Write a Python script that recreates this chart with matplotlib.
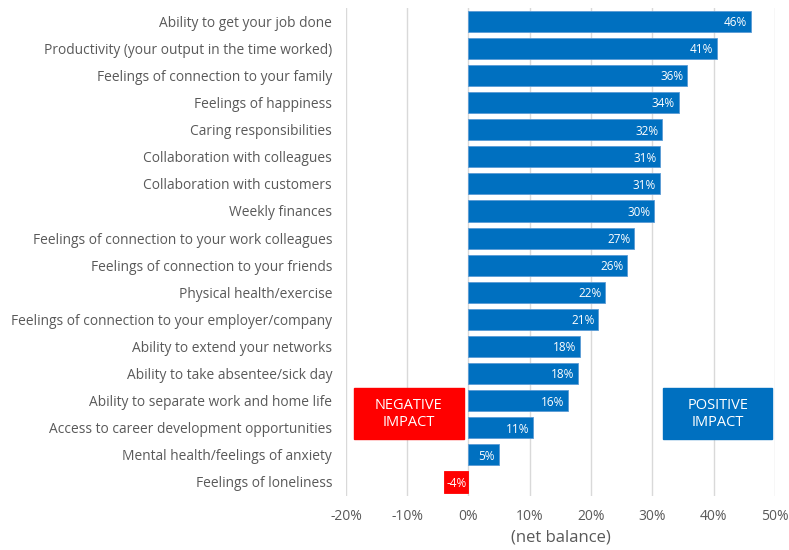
import matplotlib.pyplot as plt
import numpy as np

plt.rcParams['font.family'] = ['Open Sans', 'DejaVu Sans']

categories = [
    "Ability to get your job done",
    "Productivity (your output in the time worked)",
    "Feelings of connection to your family",
    "Feelings of happiness",
    "Caring responsibilities",
    "Collaboration with colleagues",
    "Collaboration with customers",
    "Weekly finances",
    "Feelings of connection to your work colleagues",
    "Feelings of connection to your friends",
    "Physical health/exercise",
    "Feelings of connection to your employer/company",
    "Ability to extend your networks",
    "Ability to take absentee/sick day",
    "Ability to separate work and home life",
    "Access to career development opportunities",
    "Mental health/feelings of anxiety",
    "Feelings of loneliness",
]
net_balance = [46.1, 40.6, 35.7, 34.3, 31.6, 31.3, 31.2, 30.3, 27.0, 25.9,
               22.3, 21.2, 18.2, 17.8, 16.3, 10.6, 4.9, -4.0]
x_ticks = [-20, -10, 0, 10, 20, 30, 40, 50]

BLUE = '#0070C0'
RED = '#FF0000'
TEXT = '#595959'

fig = plt.figure(figsize=(7.89, 5.5), dpi=100)
ax = fig.add_axes([0.4385, 0.099, 0.5435, 0.887])

y = np.arange(len(categories))
colors = [BLUE if v >= 0 else RED for v in net_balance]
bars = ax.barh(y, net_balance, height=0.78, color=colors,
               edgecolor='#5b9bd5', linewidth=0.6, zorder=3)
for b, v in zip(bars, net_balance):
    if v < 0:
        b.set_edgecolor(RED)

for yi, v in zip(y, net_balance):
    label = f"{round(v):d}%"
    if v >= 0:
        ax.text(v - 0.6, yi + 0.05, label, ha='right', va='center', color='white',
                fontsize=8.5, zorder=4)
    else:
        ax.text(v / 2, yi + 0.05, label, ha='center', va='center', color='white',
                fontsize=8.5, zorder=4)

ax.set_xlim(-20, 50)
ax.set_ylim(len(categories) - 0.5, -0.5)
ax.set_xticks(x_ticks)
ax.set_xticklabels([f"{t}%" for t in x_ticks], fontsize=10, color=TEXT)
ax.set_yticks(y)
ax.set_yticklabels(categories, fontsize=9.9, color=TEXT)
ax.tick_params(axis='both', length=0)
ax.tick_params(axis='y', pad=10)
ax.tick_params(axis='x', pad=10)
ax.xaxis.grid(True, color='#d9d9d9', linewidth=1, zorder=0)
for s in ax.spines.values():
    s.set_visible(False)

ax.set_xlabel("(net balance)", fontsize=12, color=TEXT, labelpad=4)

# impact callout boxes
ax.add_patch(plt.Rectangle((-18.7, 13.55), 17.9, 1.85, color=RED, zorder=3))
ax.text(-9.75, 14.5, "NEGATIVE\nIMPACT", ha='center', va='center',
        color='white', fontsize=10.5, linespacing=1.2, zorder=4)
ax.add_patch(plt.Rectangle((31.8, 13.55), 17.8, 1.85, color=BLUE, zorder=3))
ax.text(40.7, 14.5, "POSITIVE\nIMPACT", ha='center', va='center',
        color='white', fontsize=10.5, linespacing=1.2, zorder=4)

fig.savefig('out.png', dpi=100)
